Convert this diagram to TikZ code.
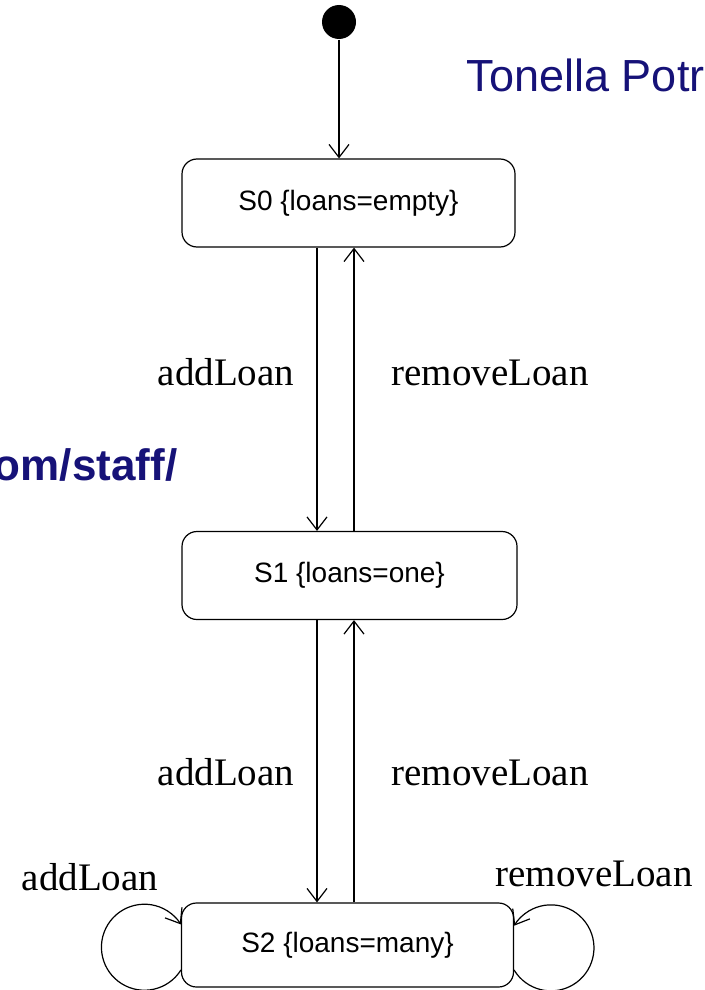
\documentclass[tikz,border=0pt]{standalone}
\usepackage{fontspec}
\setmainfont{Liberation Serif}
\newfontfamily\boxfont{Liberation Sans}
\usetikzlibrary{arrows.meta}
\definecolor{slideblue}{RGB}{22,18,120}

\begin{document}
\begin{tikzpicture}[x=1pt, y=1pt, line width=1.2pt,
    state/.style={draw, rounded corners=15pt, inner sep=0pt, minimum height=88pt,
                  font=\boxfont\fontsize{28}{32}\selectfont},
    tr/.style={-{Straight Barb[length=13pt, width=20pt, line width=1.2pt]}},
    lbl/.style={anchor=base, font=\fontsize{39}{44}\selectfont}]
  \clip (0,0) rectangle (704,-990);
  \fill[white] (0,0) rectangle (704,-990);

  \node[anchor=base west, text=slideblue, font=\boxfont\fontsize{45}{50}\selectfont]
    (author) at (463,-92) {Tonella Potr};
  \node[anchor=base west, text=slideblue, font=\boxfont\bfseries\fontsize{44}{50}\selectfont]
    (url) at (-10,-480) {om/staff/};

  \node[circle, fill=black, inner sep=0pt, minimum size=34pt] (init) at (339,-22) {};
  \node[state, minimum width=333pt] (s0) at (348.5,-203) {S0 {\{}loans=empty{\}}};
  \node[state, minimum width=335pt] (s1) at (349.5,-575.5) {S1 {\{}loans=one{\}}};
  \node[state, minimum width=332pt, minimum height=84pt] (s2) at (347.5,-945) {S2 {\{}loans=many{\}}};

  \draw[tr] (init) -- (init |- s0.north);
  \foreach \up/\dn/\yl in {s0/s1/-385, s1/s2/-785} {
    \draw[tr] (\up.south -| 317,0) -- (\dn.north -| 317,0);
    \draw[tr] (\dn.north -| 354,0) -- (\up.south -| 354,0);
    \node[lbl] at (226,\yl) {addLoan};
    \node[lbl] at (490,\yl) {removeLoan};
  }

  \draw[tr] ([yshift=-25pt]s2.west) arc[start angle=-32, end angle=-328, radius=43pt];
  \draw[tr] ([yshift=-25pt]s2.east) arc[start angle=-149, end angle=149, radius=43pt];
  \node[lbl] (addself) at (90,-890) {addLoan};
  \node[lbl] (remself) at (594,-886) {removeLoan};
\end{tikzpicture}
\end{document}
